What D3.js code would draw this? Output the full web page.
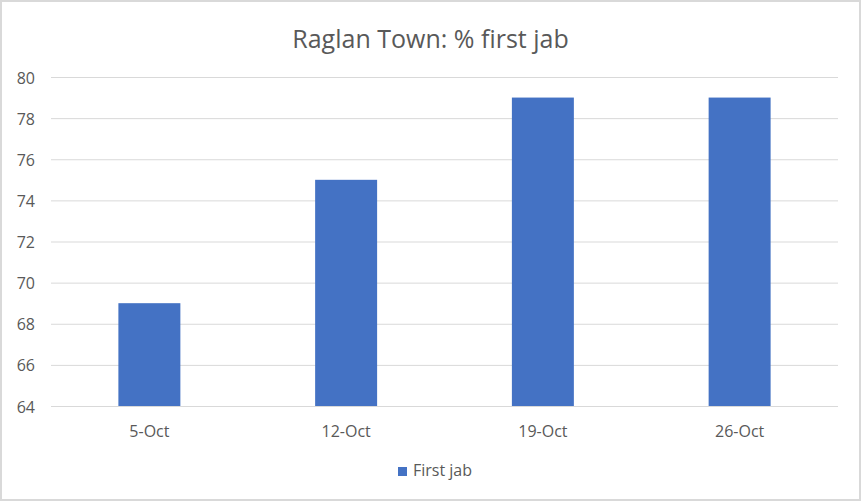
<!DOCTYPE html>
<html><head><meta charset="utf-8">
<script src="https://cdn.jsdelivr.net/npm/d3@7"></script>
<style>html,body{margin:0;padding:0;background:#fff;}svg{display:block;font-family:"Open Sans","Noto Sans",sans-serif;}</style>
</head><body>
<svg id="c" width="862" height="503"></svg>
<script>
const title = "Raglan Town: % first jab";
const categories = ["5-Oct", "12-Oct", "19-Oct", "26-Oct"];
const seriesName = "First jab";
const values = [69, 75, 79, 79];
const yTicks = [64, 66, 68, 70, 72, 74, 76, 78, 80];

const svg = d3.select("#c");
const W = 862, H = 503;
const m = {left: 51, right: 24, top: 77, bottom: 97};

svg.append("rect").attr("x", 1).attr("y", 1).attr("width", W - 3).attr("height", H - 4)
  .attr("fill", "#fff").attr("stroke", "#d9d9d9").attr("stroke-width", 2);

const x = d3.scaleBand().domain(categories).range([m.left, W - m.right]).paddingInner(0.685).paddingOuter(0.3425);
const y = d3.scaleLinear().domain([64, 80]).range([H - m.bottom, m.top]);

const grid = svg.append("g");
grid.selectAll("line").data(yTicks).join("line")
  .attr("x1", m.left).attr("x2", W - m.right)
  .attr("y1", d => y(d) + 0.5).attr("y2", d => y(d) + 0.5)
  .attr("stroke", "#d9d9d9").attr("stroke-width", 1);

svg.append("g").selectAll("rect").data(values).join("rect")
  .attr("x", (d, i) => x(categories[i]))
  .attr("width", x.bandwidth())
  .attr("y", d => y(d))
  .attr("height", d => y(64) - y(d))
  .attr("fill", "#4472C4");

const yAxis = d3.axisLeft(y).tickValues(yTicks).tickSize(0).tickPadding(0);
const gy = svg.append("g").attr("transform", `translate(${m.left - 16},0.5)`).call(yAxis);
gy.select(".domain").remove();
gy.selectAll("text").attr("fill", "#595959").style("font-size", "16px").style("font-family", "'Open Sans','Noto Sans',sans-serif").attr("dy", "0.35em");

const xAxis = d3.axisBottom(x).tickSize(0).tickPadding(0);
const gx = svg.append("g").attr("transform", `translate(0,${y(64) + 19.5})`).call(xAxis);
gx.select(".domain").remove();
gx.selectAll("text").attr("fill", "#595959").style("font-size", "16px").style("font-family", "'Open Sans','Noto Sans',sans-serif").attr("dy", "0.71em");

svg.append("text").attr("x", 430.5).attr("y", 48)
  .attr("text-anchor", "middle").attr("fill", "#595959").style("font-size", "25px").text(title);

const lg = svg.append("g");
lg.append("rect").attr("x", 398).attr("y", 467).attr("width", 9).attr("height", 9).attr("fill", "#4472C4");
lg.append("text").attr("x", 413).attr("y", 476).attr("fill", "#595959").style("font-size", "16px").text(seriesName);
</script>
</body></html>
